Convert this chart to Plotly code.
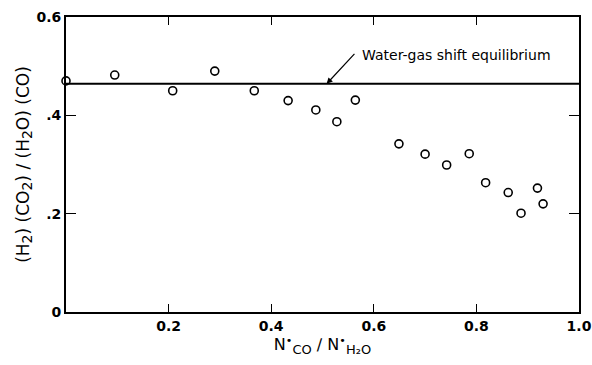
import plotly.graph_objects as go

# Measured ratio vs. feed ratio
n_ratio = [0.0, 0.095, 0.208, 0.290, 0.367, 0.433, 0.487, 0.528, 0.564,
           0.649, 0.700, 0.742, 0.786, 0.818, 0.862, 0.887, 0.919, 0.930]
k_ratio = [0.470, 0.482, 0.450, 0.490, 0.450, 0.430, 0.411, 0.387, 0.431,
           0.342, 0.321, 0.299, 0.322, 0.263, 0.243, 0.201, 0.252, 0.220]

# Water-gas shift equilibrium constant
eq_x = [0.0, 1.0]
eq_y = [0.464, 0.464]

x_ticks = [0.2, 0.4, 0.6, 0.8, 1.0]
x_labels = ["0.2", "0.4", "0.6", "0.8", "1.0"]
y_ticks = [0.0, 0.2, 0.4, 0.6]
y_labels = ["0", ".2", ".4", "0.6"]

font = "DejaVu Sans, Verdana, sans-serif"

fig = go.Figure()
fig.add_trace(go.Scatter(x=eq_x, y=eq_y, mode="lines",
                         line=dict(color="black", width=2), cliponaxis=False,
                         showlegend=False))
fig.add_trace(go.Scatter(x=n_ratio, y=k_ratio, mode="markers", cliponaxis=False,
                         marker=dict(symbol="circle-open", size=8, color="black",
                                     line=dict(width=1.6, color="black")),
                         showlegend=False))

fig.add_annotation(x=0.508, y=0.464, xref="x", yref="y",
                   ax=0.565, ay=0.528, axref="x", ayref="y",
                   text="", showarrow=True, arrowhead=2, arrowsize=1,
                   arrowwidth=1.2, arrowcolor="black", standoff=0)
fig.add_annotation(x=0.574, y=0.523, xref="x", yref="y",
                   text="Water-gas shift equilibrium", showarrow=False,
                   xanchor="left", yanchor="middle",
                   font=dict(family=font, size=14, color="black"))

tick_font = dict(size=14, family=font, weight="bold")

x_sub = "<sub><span style='font-size:13px'>{}</span></sub>"
y_sub = "<sub><span style='font-size:14px'>{}</span></sub>"
x_title = ("N<sup>•</sup>" + x_sub.format("CO") + " ∕ N<sup>•</sup>"
           + x_sub.format("H₂O"))
y_title = "\u00a0".join(["(H" + y_sub.format("2") + ")",
                         "(CO" + y_sub.format("2") + ")",
                         "/",
                         "(H" + y_sub.format("2") + "O)",
                         "(CO)"])

fig.update_layout(
    width=592, height=365,
    margin=dict(l=66, r=13, t=17, b=53),
    paper_bgcolor="white", plot_bgcolor="white",
    font=dict(family=font, color="black"),
    xaxis=dict(range=[0, 1], tickvals=x_ticks, ticktext=x_labels,
               ticks="inside", ticklen=8, tickwidth=1.3, tickcolor="black",
               showline=True, linecolor="black", linewidth=1.8, mirror="ticks",
               showgrid=False, zeroline=False, tickfont=tick_font,
               automargin=False,
               title=dict(text=x_title, font=dict(size=16, family=font),
                          standoff=6)),
    yaxis=dict(range=[0, 0.6], tickvals=y_ticks, ticktext=y_labels,
               ticks="inside", ticklen=10, tickwidth=1.3, tickcolor="black",
               showline=True, linecolor="black", linewidth=1.8, mirror="ticks",
               showgrid=False, zeroline=False, tickfont=tick_font,
               automargin=False,
               title=dict(text=y_title, font=dict(size=17, family=font),
                          standoff=3)),
)

fig.write_html("out.html")
